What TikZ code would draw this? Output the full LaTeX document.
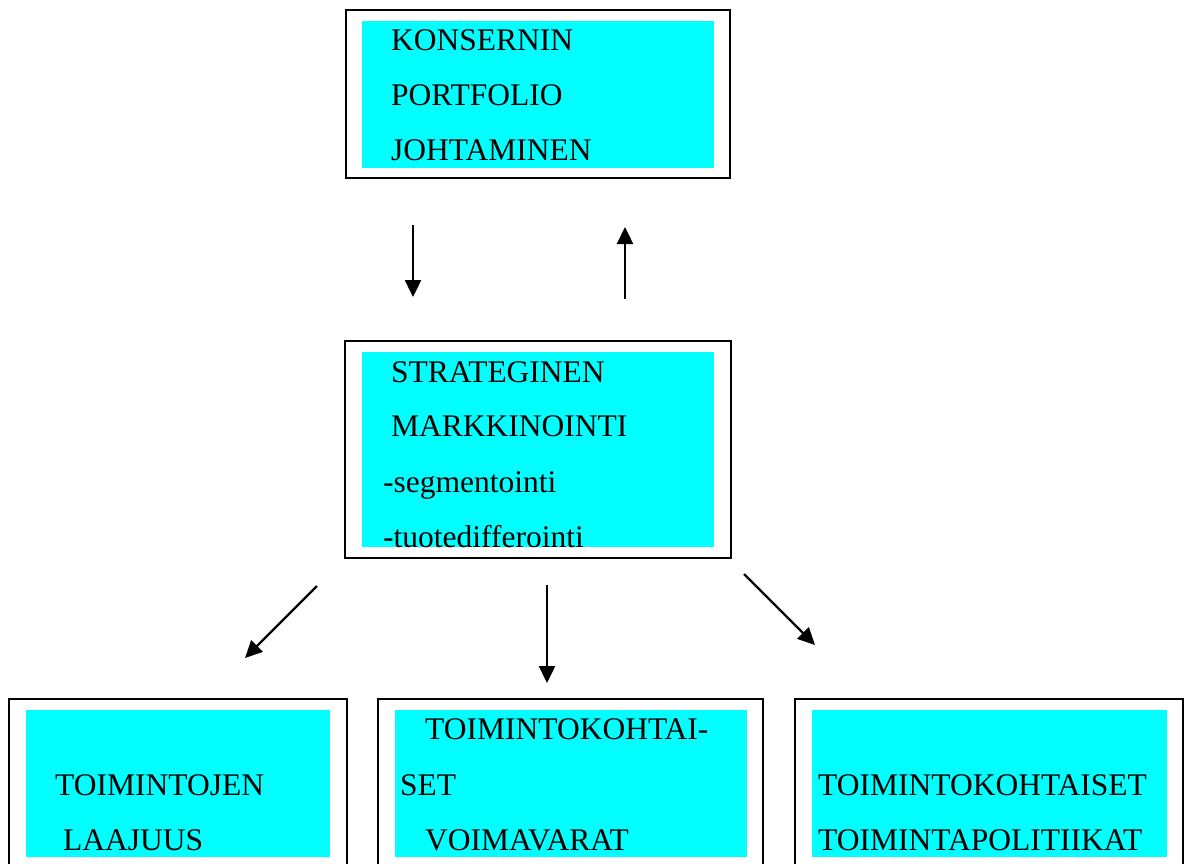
\documentclass[tikz,border=0pt]{standalone}
\usepackage{fontspec}
\setmainfont{Liberation Serif}
\usetikzlibrary{arrows.meta}
\definecolor{aqua}{RGB}{0,255,255}
\begin{document}
\begin{tikzpicture}[x=1pt,y=-1pt,
  outerbox/.style={draw=black,line width=1.8pt,fill=white,inner sep=0pt,minimum width=#1},
  cyanbox/.style={fill=aqua,draw=none,inner sep=0pt,minimum width=#1},
  lbl/.style={anchor=base west,inner sep=0pt,font=\fontsize{31.5}{37}\selectfont},
  arr/.style={line width=2.4pt,-{Triangle[length=17pt,width=16pt]}}]
\useasboundingbox (0,0) rectangle (1190,863);
\clip (0,0) rectangle (1190,863);
% top box
\node[outerbox=384, minimum height=168] (top) at (538,94) {};
\node[cyanbox=352, minimum height=147] (topc) at (538,94.5) {};
\node[lbl] (t1) at (391,50) {KONSERNIN};
\node[lbl] (t2) at (391,105) {PORTFOLIO};
\node[lbl] (t3) at (391,160) {JOHTAMINEN};
% middle box
\node[outerbox=386, minimum height=217] (mid) at (538,449.5) {};
\node[cyanbox=352, minimum height=195] (midc) at (538,449.5) {};
\node[lbl] (m1) at (391,382) {STRATEGINEN};
\node[lbl] (m2) at (391,436) {MARKKINOINTI};
\node[lbl] (m3) at (383,492) {-segmentointi};
\node[lbl] (m4) at (383,547) {-tuotedifferointi};
% bottom boxes
\node[outerbox=338, minimum height=181] (bl) at (178,789.5) {};
\node[cyanbox=304, minimum height=147] (blc) at (178,783.5) {};
\node[lbl] (b1) at (55,795) {TOIMINTOJEN};
\node[lbl] (b2) at (63,850) {LAAJUUS};
\node[outerbox=385, minimum height=181] (bm) at (570.5,789.5) {};
\node[cyanbox=352, minimum height=147] (bmc) at (571,783.5) {};
\node[lbl] (c1) at (425,739) {TOIMINTOKOHTAI-};
\node[lbl] (c2) at (400,795) {SET};
\node[lbl] (c3) at (425,850) {VOIMAVARAT};
\node[outerbox=388, minimum height=181] (br) at (989,789.5) {};
\node[cyanbox=355, minimum height=147] (brc) at (989.5,783.5) {};
\node[lbl] (d1) at (818,795) {TOIMINTOKOHTAISET};
\node[lbl] (d2) at (818,850) {TOIMINTAPOLITIIKAT};
% arrows
\coordinate (a1s) at (413,225); \coordinate (a1e) at (413,297);
\coordinate (a2s) at (625,299); \coordinate (a2e) at (625,227);
\coordinate (a3s) at (317,586); \coordinate (a3e) at (245,658);
\coordinate (a4s) at (547,585); \coordinate (a4e) at (547,683);
\coordinate (a5s) at (744,574); \coordinate (a5e) at (815,645);
\draw[arr] (a1s) -- (a1e);
\draw[arr] (a2s) -- (a2e);
\draw[arr] (a3s) -- (a3e);
\draw[arr] (a4s) -- (a4e);
\draw[arr] (a5s) -- (a5e);
\end{tikzpicture}
\end{document}
